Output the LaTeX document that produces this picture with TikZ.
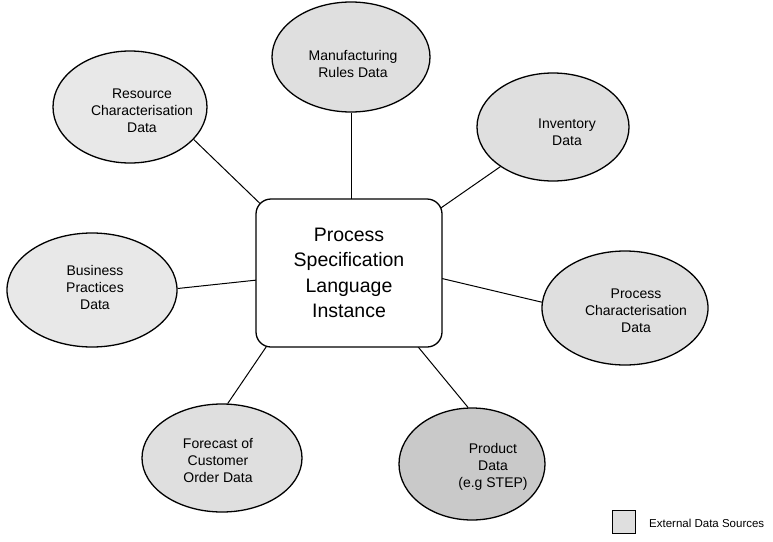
\documentclass[tikz,border=0pt]{standalone}
\usepackage{fontspec}
\setmainfont{Liberation Sans}
\usetikzlibrary{shapes.geometric}
\pgfdeclarelayer{background}
\pgfsetlayers{background,main}

\begin{document}
\begin{tikzpicture}[x=1pt,y=-1pt,
  source/.style={ellipse, draw, line width=1.3pt, fill=#1, inner sep=0pt},
  srctext/.style={align=center, inner sep=0pt, font=\fontsize{14}{17}\selectfont},
  core/.style={draw, fill=white, line width=1.3pt, rounded corners=15pt,
    align=center, inner sep=0pt, font=\fontsize{19.5}{25.5}\selectfont},
  link/.style={line width=1pt},
  keybox/.style={draw, fill=gray!25, line width=0.8pt, inner sep=0pt, minimum size=23pt}
]
\useasboundingbox (0,0) rectangle (773,541);

% central instance
\node[core, minimum width=186pt, minimum height=148pt] (psl) at (349,273)
  {Process\\Specification\\Language\\Instance};

% external data sources
\node[source=gray!25, minimum width=158pt, minimum height=110pt] (manu) at (351,57) {};
\node[srctext] (manuT) at (353,64) {Manufacturing\\Rules Data};

\node[source=gray!18, minimum width=154pt, minimum height=112pt] (res) at (130,107) {};
\node[srctext] (resT) at (142,111) {Resource\\Characterisation\\Data};

\node[source=gray!25, minimum width=152pt, minimum height=108pt] (inv) at (553,127) {};
\node[srctext] (invT) at (567,132) {Inventory\\Data};

\node[source=gray!18, minimum width=170pt, minimum height=114pt] (bus) at (92,290) {};
\node[srctext] (busT) at (95,287) {Business\\Practices\\Data};

\node[source=gray!25, minimum width=166pt, minimum height=114pt] (proc) at (625,308) {};
\node[srctext] (procT) at (636,311) {Process\\Characterisation\\Data};

\node[source=gray!25, minimum width=160pt, minimum height=108pt] (fore) at (222,458) {};
\node[srctext] (foreT) at (218,460) {Forecast of\\Customer\\Order Data};

\node[source=gray!42, minimum width=146pt, minimum height=112pt] (prod) at (472,464) {};
\node[srctext] (prodT) at (493,467) {Product\\Data\\(e.g STEP)};

% legend
\node[keybox] (key) at (623.5,522) {};
\node[anchor=west, inner sep=0pt, font=\fontsize{11.5}{13}\selectfont] (keyT) at (649,523)
  {External Data Sources};

% connector ends inside the central box (hidden by its fill)
\coordinate (manuIn) at (351,220);
\coordinate (resIn)  at (274,217);
\coordinate (invIn)  at (425,219);
\coordinate (busIn)  at (276,278);
\coordinate (procIn) at (423,274);
\coordinate (foreIn) at (279,328);
\coordinate (prodIn) at (405,331);

\begin{pgfonlayer}{background}
  \draw[link] (manu.south) -- (manuIn);
  \draw[link] (res.-27)    -- (resIn);
  \draw[link] (inv.-143)   -- (invIn);
  \draw[link] (bus.1)      -- (busIn);
  \draw[link] (proc.176.5) -- (procIn);
  \draw[link] (fore.84)    -- (foreIn);
  \draw[link] (prod.94)    -- (prodIn);
\end{pgfonlayer}
\end{tikzpicture}
\end{document}
